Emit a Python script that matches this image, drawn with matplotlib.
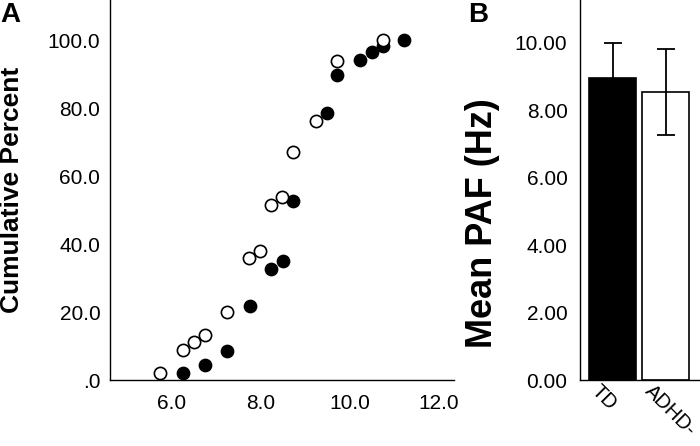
import matplotlib
matplotlib.use("Agg")
import matplotlib.pyplot as plt
import matplotlib.transforms as mtransforms

plt.rcParams['font.family'] = ['Liberation Sans', 'DejaVu Sans']

# Panel A: cumulative distribution of PAF
td_paf = [6.25, 6.75, 7.25, 7.76, 8.24, 8.50, 8.74, 9.49, 9.73, 10.24, 10.50, 10.75, 11.23]
td_cum = [2.2, 4.3, 8.6, 21.8, 32.6, 35.0, 52.6, 78.7, 89.7, 94.1, 96.4, 98.3, 100.0]
adhd_paf = [5.75, 6.25, 6.51, 6.75, 7.25, 7.75, 8.00, 8.24, 8.49, 8.74, 9.25, 9.73, 10.75]
adhd_cum = [2.2, 8.9, 11.2, 13.3, 20.1, 35.8, 38.0, 51.5, 53.7, 67.1, 76.3, 93.9, 100.0]
a_xticks = [6.0, 8.0, 10.0, 12.0]
a_xticklabels = ["6.0", "8.0", "10.0", "12.0"]
a_yticks = [0, 20, 40, 60, 80, 100]
a_yticklabels = [".0", "20.0", "40.0", "60.0", "80.0", "100.0"]

# Panel B: mean PAF
groups = ["TD", "ADHD-"]
mean_paf = [8.96, 8.54]
err_paf = [1.04, 1.27]
bar_colors = ["black", "white"]
b_yticks = [0, 2, 4, 6, 8, 10]
b_yticklabels = ["0.00", "2.00", "4.00", "6.00", "8.00", "10.00"]

fig = plt.figure(figsize=(7.0, 4.46), dpi=100)

axA = fig.add_axes([110/700, 66/446, 344/700, 380/446])
axA.plot(td_paf, td_cum, linestyle='none', marker='o', markersize=8.8,
         markerfacecolor='black', markeredgecolor='black', markeredgewidth=1.1, zorder=3)
axA.plot(adhd_paf, adhd_cum, linestyle='none', marker='o', markersize=8.8,
         markerfacecolor='white', markeredgecolor='black', markeredgewidth=1.2, zorder=4)
axA.set_xlim(4.62, 12.35)
axA.set_ylim(0, 111.8)
axA.set_xticks(a_xticks)
axA.set_xticklabels(a_xticklabels)
axA.set_yticks(a_yticks)
axA.set_yticklabels(a_yticklabels)
axA.tick_params(axis='both', length=0, labelsize=15)
axA.tick_params(axis='x', pad=10)
axA.tick_params(axis='y', pad=7)
for s in ['top', 'right']:
    axA.spines[s].set_visible(False)
for s in ['left', 'bottom']:
    axA.spines[s].set_linewidth(1.0)
fig.text(12/700, 1 - 190/446, "Cumulative Percent", rotation=90, ha='center', va='center',
         fontsize=19, fontweight='bold')
fig.text(0/700, 1 - 15/446, "A", ha='left', va='center', fontsize=20, fontweight='bold')

axB = fig.add_axes([580/700, 66/446, 120/700, 380/446])
xpos = list(range(len(groups)))
axB.bar(xpos, mean_paf, width=0.88, color=bar_colors, edgecolor='black', linewidth=1.2, zorder=2)
axB.errorbar(xpos, mean_paf, yerr=err_paf, fmt='none', ecolor='black', elinewidth=1.3,
             capsize=6.5, capthick=1.3, zorder=3)
axB.set_xlim(-0.61, 1.64)
axB.set_ylim(0, 11.26)
axB.set_yticks(b_yticks)
axB.set_yticklabels(b_yticklabels)
axB.set_xticks(xpos)
axB.set_xticklabels(groups, rotation=-45, ha='left', va='top', rotation_mode='anchor',
                    fontsize=14.5)
axB.tick_params(axis='y', length=0, labelsize=15, pad=9)
axB.tick_params(axis='x', length=0, pad=1)
shift = mtransforms.ScaledTranslation(-11/100, 0, fig.dpi_scale_trans)
for lbl in axB.get_xticklabels():
    lbl.set_transform(lbl.get_transform() + shift)
for s in ['top', 'right']:
    axB.spines[s].set_visible(False)
for s in ['left', 'bottom']:
    axB.spines[s].set_linewidth(1.0)
fig.text(482/700, 1 - 223/446, "Mean PAF (Hz)", rotation=90, ha='center', va='center',
         fontsize=26, fontweight='bold')
fig.text(468/700, 1 - 15/446, "B", ha='left', va='center', fontsize=20, fontweight='bold')

fig.savefig("out.png", dpi=100)
